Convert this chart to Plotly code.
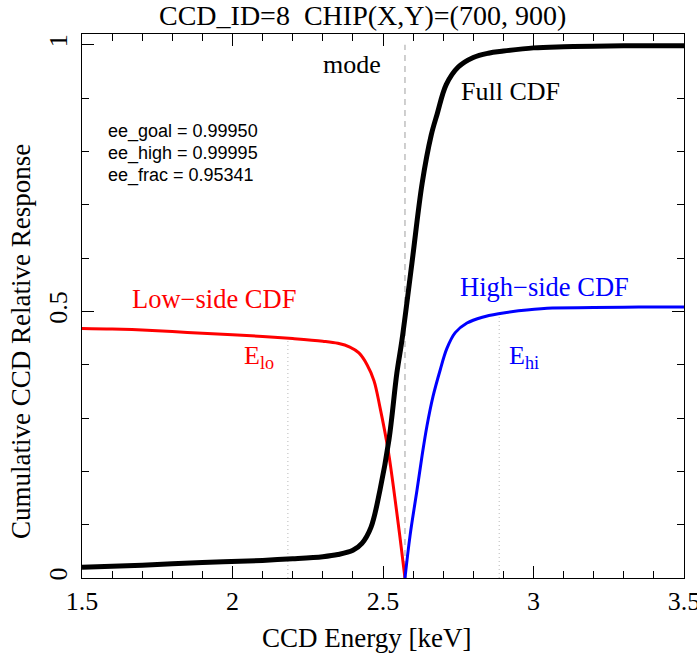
import plotly.graph_objects as go

# ---- data ----
full_x = [1.5, 1.7, 1.9, 2.1, 2.2, 2.3, 2.35, 2.4, 2.43, 2.46, 2.49, 2.52, 2.546, 2.563,
          2.596, 2.63, 2.66, 2.68, 2.71, 2.75, 2.8, 2.85, 2.9, 3.0, 3.1, 3.2, 3.35, 3.5]
full_y = [0.020, 0.024, 0.029, 0.033, 0.036, 0.040, 0.044, 0.052, 0.065, 0.095, 0.165, 0.26,
          0.384, 0.446, 0.59, 0.74, 0.83, 0.87, 0.925, 0.958, 0.976, 0.984, 0.988, 0.994,
          0.996, 0.997, 0.998, 0.998]

low_x = [1.5, 1.6, 1.7, 1.8, 1.9, 2.0, 2.1, 2.2, 2.3, 2.35, 2.39, 2.42, 2.447, 2.47,
         2.49, 2.517, 2.546, 2.56, 2.573]
low_y = [0.468, 0.467, 0.465, 0.462, 0.459, 0.456, 0.453, 0.449, 0.444, 0.440, 0.433,
         0.422, 0.40, 0.37, 0.32, 0.24, 0.122, 0.06, 0.0]

high_x = [2.573, 2.59, 2.613, 2.63, 2.646, 2.666, 2.69, 2.712, 2.74, 2.779, 2.83, 2.889,
          2.95, 3.045, 3.2, 3.35, 3.5]
high_y = [0.0, 0.08, 0.165, 0.23, 0.285, 0.34, 0.39, 0.43, 0.46, 0.478, 0.489, 0.496,
          0.501, 0.506, 0.507, 0.508, 0.508]

mode_energy = 2.573
mode_top = 1.0
e_lo = 2.184
e_lo_level = 0.449
e_hi = 2.886
e_hi_level = 0.495

ee_labels = ["ee_goal = 0.99950", "ee_high = 0.99995", "ee_frac = 0.95341"]
ee_y = [0.837, 0.796, 0.755]

title_text = "CCD_ID=8  CHIP(X,Y)=(700, 900)"
x_title = "CCD Energy [keV]"
y_title = "Cumulative CCD Relative Response"

x_ticks = [1.5, 2.0, 2.5, 3.0, 3.5]
x_tick_labels = ["1.5", "2", "2.5", "3", "3.5"]
y_ticks = [0, 0.5, 1.0]
y_tick_labels = ["0", "0.5", "1"]

SERIF = "Liberation Serif, Times New Roman, serif"
SANS = "Liberation Sans, Arial, sans-serif"

W, H = 697, 671
PL, PR, PT, PB = 82, 684, 34, 578  # plot box in page pixels


def px_to_paper(px, py):
    return (px - PL) / (PR - PL), (PB - py) / (PB - PT)


fig = go.Figure()

# reference vertical lines
fig.add_trace(go.Scatter(x=[mode_energy, mode_energy], y=[0, mode_top], mode="lines",
                         line=dict(color="#c0c0c0", width=1.5, dash="6px,5px"),
                         hoverinfo="skip", showlegend=False))
fig.add_trace(go.Scatter(x=[e_lo, e_lo], y=[0, e_lo_level], mode="lines",
                         line=dict(color="#b8b8b8", width=1, dash="1px,3px"),
                         hoverinfo="skip", showlegend=False))
fig.add_trace(go.Scatter(x=[e_hi, e_hi], y=[0, e_hi_level], mode="lines",
                         line=dict(color="#b8b8b8", width=1, dash="1px,3px"),
                         hoverinfo="skip", showlegend=False))

fig.add_trace(go.Scatter(x=low_x, y=low_y, mode="lines", line=dict(color="red", width=3, shape="spline"),
                         name="Low-side CDF", showlegend=False))
fig.add_trace(go.Scatter(x=high_x, y=high_y, mode="lines", line=dict(color="blue", width=3, shape="spline"),
                         name="High-side CDF", showlegend=False))
fig.add_trace(go.Scatter(x=full_x, y=full_y, mode="lines", line=dict(color="black", width=5, shape="spline"),
                         name="Full CDF", showlegend=False))

ann = []
ann.append(dict(x=2.5, y=0.962, xref="x", yref="y", text="mode", showarrow=False,
                xanchor="right", yanchor="middle", font=dict(family=SERIF, size=26, color="black")))
ann.append(dict(x=2.753, y=0.913, xref="x", yref="y", text="Full CDF", showarrow=False,
                xanchor="left", yanchor="middle", font=dict(family=SERIF, size=26, color="black")))
ann.append(dict(x=1.939, y=0.523, xref="x", yref="y", text="Low\u2212side CDF", showarrow=False,
                xanchor="center", yanchor="middle", font=dict(family=SERIF, size=26.5, color="red")))
ann.append(dict(x=3.038, y=0.545, xref="x", yref="y", text="High\u2212side CDF", showarrow=False,
                xanchor="center", yanchor="middle", font=dict(family=SERIF, size=26.5, color="blue")))
ann.append(dict(x=e_lo - 0.04, y=0.415, xref="x", yref="y", text="E<sub>lo</sub>", showarrow=False,
                xanchor="right", yanchor="middle", font=dict(family=SERIF, size=26, color="red")))
ann.append(dict(x=e_hi + 0.025, y=0.415, xref="x", yref="y", text="E<sub>hi</sub>", showarrow=False,
                xanchor="left", yanchor="middle", font=dict(family=SERIF, size=26, color="blue")))
for t, yy in zip(ee_labels, ee_y):
    ann.append(dict(x=1.581, y=yy, xref="x", yref="y", text=t, showarrow=False,
                    xanchor="left", yanchor="middle", font=dict(family=SANS, size=18, color="black")))
# title and axis titles (positions given in page pixels)
tx, ty = px_to_paper(362, 16)
ann.append(dict(x=tx, y=ty, xref="paper", yref="paper", text=title_text, showarrow=False,
                xanchor="center", yanchor="middle", font=dict(family=SERIF, size=28, color="black")))
tx, ty = px_to_paper(366, 638)
ann.append(dict(x=tx, y=ty, xref="paper", yref="paper", text=x_title, showarrow=False,
                xanchor="center", yanchor="middle", font=dict(family=SERIF, size=27, color="black")))
tx, ty = px_to_paper(21, 342)
ann.append(dict(x=tx, y=ty, xref="paper", yref="paper", text=y_title, showarrow=False,
                textangle=-90, xanchor="center", yanchor="middle",
                font=dict(family=SERIF, size=27, color="black")))

fig.update_layout(
    width=W, height=H,
    margin=dict(l=PL, r=W - PR, t=PT, b=H - PB, autoexpand=False),
    paper_bgcolor="white", plot_bgcolor="white",
    annotations=ann,
    showlegend=False,
)
fig.update_xaxes(range=[1.5, 3.5], showgrid=False, zeroline=False, showline=True, linecolor="black",
                 linewidth=1, mirror="ticks", ticks="inside", ticklen=12, tickwidth=1, tickcolor="black",
                 tickvals=x_ticks, ticktext=x_tick_labels, ticklabeloverflow="allow",
                 tickfont=dict(family=SERIF, size=26, color="black"),
                 minor=dict(dtick=0.1, ticks="inside", ticklen=7, tickwidth=1, tickcolor="black", showgrid=False))
fig.update_yaxes(range=[0, 1.02], showgrid=False, zeroline=False, showline=True, linecolor="black",
                 linewidth=1, mirror="ticks", ticks="inside", ticklen=12, tickwidth=1, tickcolor="black",
                 tickvals=y_ticks, ticktext=y_tick_labels, tickangle=-90, ticklabelstandoff=4,
                 tickfont=dict(family=SERIF, size=26, color="black"),
                 minor=dict(dtick=0.1, ticks="inside", ticklen=7, tickwidth=1, tickcolor="black", showgrid=False))

fig.write_html("out.html", config={"displayModeBar": False},
               post_script="document.body.style.margin='0px';")
